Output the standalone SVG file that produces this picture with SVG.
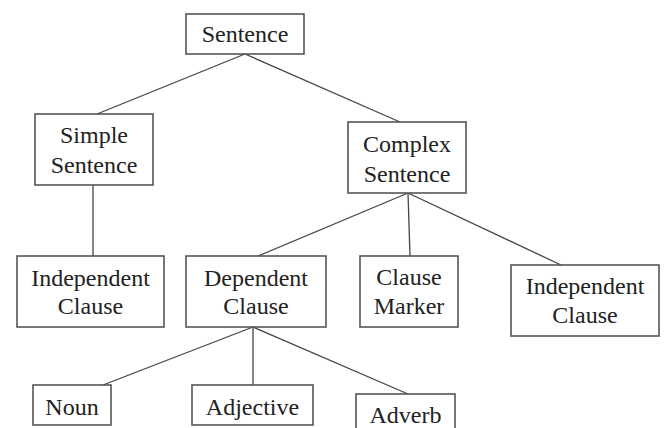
<svg xmlns="http://www.w3.org/2000/svg" width="667" height="428" viewBox="0 0 667 428">
<style>
.box{fill:#fff;stroke:#555;stroke-width:1.6}
.lbl{font-family:"Liberation Serif","Times New Roman",serif;font-size:24px;fill:#222;text-anchor:middle}
.con line{stroke:#444;stroke-width:1.3}
</style>
<rect width="667" height="428" fill="#fff"/>
<g class="con" id="connectors">
<line x1="245" y1="54" x2="97" y2="114"/>
<line x1="245" y1="54" x2="400" y2="122"/>
<line x1="93" y1="185" x2="93" y2="256"/>
<line x1="408" y1="193" x2="258" y2="256"/>
<line x1="408" y1="193" x2="410" y2="256"/>
<line x1="408" y1="193" x2="561" y2="265"/>
<line x1="253" y1="327" x2="103" y2="385"/>
<line x1="253" y1="327" x2="253" y2="385"/>
<line x1="253" y1="327" x2="408" y2="394"/>
</g>
<g id="sentence"><rect class="box" x="186" y="14" width="118" height="40"/><text class="lbl" x="245" y="42">Sentence</text></g>
<g id="simple"><rect class="box" x="35" y="114" width="118" height="71"/><text class="lbl" x="94" y="143">Simple</text><text class="lbl" x="94" y="173">Sentence</text></g>
<g id="complex"><rect class="box" x="348" y="122" width="118" height="71"/><text class="lbl" x="407" y="152">Complex</text><text class="lbl" x="407" y="182">Sentence</text></g>
<g id="indep-left"><rect class="box" x="17" y="256" width="147" height="71"/><text class="lbl" x="90.5" y="285.5">Independent</text><text class="lbl" x="90.5" y="314">Clause</text></g>
<g id="dependent"><rect class="box" x="186" y="256" width="140" height="71"/><text class="lbl" x="256" y="285.5">Dependent</text><text class="lbl" x="256" y="314">Clause</text></g>
<g id="marker"><rect class="box" x="360" y="256" width="98" height="71"/><text class="lbl" x="409" y="285">Clause</text><text class="lbl" x="409" y="314">Marker</text></g>
<g id="indep-right"><rect class="box" x="511" y="265" width="148" height="71"/><text class="lbl" x="585" y="294">Independent</text><text class="lbl" x="585" y="323">Clause</text></g>
<g id="noun"><rect class="box" x="33" y="385" width="78" height="40"/><text class="lbl" x="72" y="415">Noun</text></g>
<g id="adjective"><rect class="box" x="192" y="385" width="121" height="40"/><text class="lbl" x="252.5" y="415">Adjective</text></g>
<g id="adverb"><rect class="box" x="356" y="394" width="99" height="40"/><text class="lbl" x="405.5" y="423">Adverb</text></g>
</svg>
